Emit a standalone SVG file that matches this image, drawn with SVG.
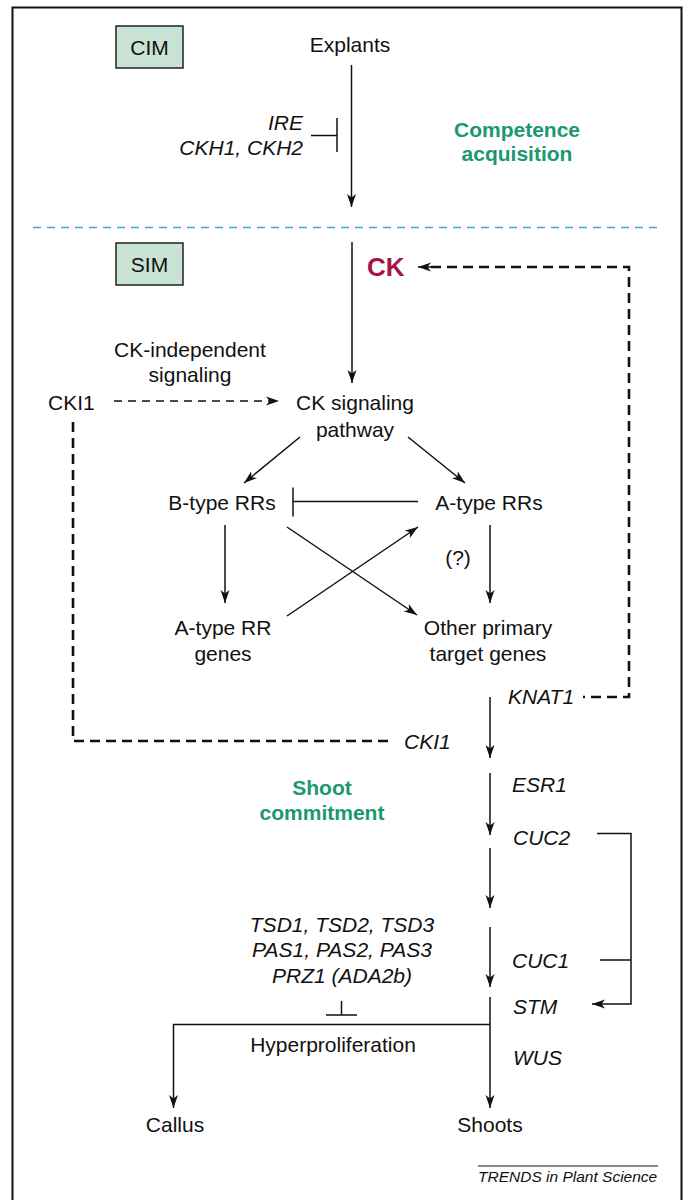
<svg xmlns="http://www.w3.org/2000/svg" width="683" height="1200" viewBox="0 0 683 1200">
<style>
text{font-family:"Liberation Sans",Arial,sans-serif;font-size:21px;fill:#111}
.c{text-anchor:middle}
.e{text-anchor:end}
.i{font-style:italic}
.g{font-weight:bold;fill:#1a9870}
.ln{fill:none;stroke:#111;stroke-width:1.5}
.thin{fill:none;stroke:#111;stroke-width:1.5;stroke-dasharray:8 6}
.thick{fill:none;stroke:#111;stroke-width:2.6;stroke-dasharray:10 6}
.box{fill:#c8e2d3;stroke:#222;stroke-width:1.5}
</style>
<defs>
<marker id="ah" markerUnits="userSpaceOnUse" markerWidth="14" markerHeight="10" refX="13" refY="5" orient="auto">
<path d="M0,0.5 L13,5 L0,9.5 L3.5,5 z" fill="#111"/>
</marker>
</defs>
<rect x="12.5" y="7.5" width="669" height="1210" fill="#fff" stroke="#111" stroke-width="2"/>
<line x1="33" y1="227.5" x2="661" y2="227.5" stroke="#3aa6dc" stroke-width="1.5" stroke-dasharray="8 6"/>

<g id="cim"><rect class="box" x="116" y="26" width="67" height="42"/><text class="c" x="149.5" y="55">CIM</text></g>
<g id="sim"><rect class="box" x="116" y="243" width="67" height="42"/><text class="c" x="149.5" y="272">SIM</text></g>
<g id="explants"><text class="c" x="350" y="52">Explants</text></g>
<g id="ire"><text class="e i" x="303" y="130">IRE</text><text class="e i" x="303" y="155">CKH1, CKH2</text></g>
<g id="competence"><text class="c g" x="517" y="137">Competence</text><text class="c g" x="517" y="161">acquisition</text></g>
<g id="ck"><text x="367" y="276" style="font-weight:bold;font-size:26px;fill:#a3154b">CK</text></g>
<g id="ckindep"><text class="c" x="190" y="357">CK-independent</text><text class="c" x="190" y="382">signaling</text></g>
<g id="cki1a"><text x="48" y="410">CKI1</text></g>
<g id="pathway"><text class="c" x="355" y="410">CK signaling</text><text class="c" x="355" y="437">pathway</text></g>
<g id="btype"><text class="c" x="222" y="510">B-type RRs</text></g>
<g id="atype"><text class="c" x="489" y="510">A-type RRs</text></g>
<g id="q"><text class="c" x="458" y="565">(?)</text></g>
<g id="atypegenes"><text class="c" x="223" y="635">A-type RR</text><text class="c" x="223" y="661">genes</text></g>
<g id="other"><text class="c" x="488" y="635">Other primary</text><text class="c" x="488" y="661">target genes</text></g>
<g id="knat1"><text class="i" x="508" y="704">KNAT1</text></g>
<g id="cki1b"><text class="i" x="404" y="749">CKI1</text></g>
<g id="esr1"><text class="i" x="512" y="792">ESR1</text></g>
<g id="shoot"><text class="c g" x="322" y="795">Shoot</text><text class="c g" x="322" y="820">commitment</text></g>
<g id="cuc2"><text class="i" x="513" y="845">CUC2</text></g>
<g id="tsd"><text class="c i" x="342" y="932">TSD1, TSD2, TSD3</text><text class="c i" x="342" y="957">PAS1, PAS2, PAS3</text><text class="c i" x="342" y="983">PRZ1 (ADA2b)</text></g>
<g id="cuc1"><text class="i" x="512" y="968">CUC1</text></g>
<g id="stm"><text class="i" x="513" y="1014">STM</text></g>
<g id="hyper"><text class="c" x="333" y="1052">Hyperproliferation</text></g>
<g id="wus"><text class="i" x="513" y="1065">WUS</text></g>
<g id="callus"><text class="c" x="175" y="1132">Callus</text></g>
<g id="shoots"><text class="c" x="490" y="1132">Shoots</text></g>
<g id="credit"><line x1="478" y1="1166" x2="658" y2="1166" stroke="#111" stroke-width="1"/><text class="i" x="478" y="1182" style="font-size:15.5px">TRENDS in Plant Science</text></g>

<g id="connectors">
<line class="ln" x1="351.5" y1="65" x2="351.5" y2="207" marker-end="url(#ah)"/>
<line class="ln" x1="311" y1="135.5" x2="337" y2="135.5"/>
<line class="ln" x1="337" y1="118" x2="337" y2="152"/>
<line class="ln" x1="352" y1="242" x2="352" y2="383" marker-end="url(#ah)"/>
<line x1="583" y1="697" x2="585" y2="697" stroke="#111" stroke-width="2.6"/>
<path class="thick" d="M591,697 H629 V267 H430"/>
<line class="ln" x1="432" y1="267" x2="418" y2="267" marker-end="url(#ah)"/>
<line class="thin" x1="114" y1="401" x2="279" y2="401" marker-end="url(#ah)"/>
<path class="thick" d="M73,422 V741 H394"/>
<line class="ln" x1="300" y1="437" x2="244" y2="483" marker-end="url(#ah)"/>
<line class="ln" x1="408" y1="437" x2="465" y2="483" marker-end="url(#ah)"/>
<line class="ln" x1="418" y1="501.5" x2="293" y2="501.5"/>
<line class="ln" x1="293" y1="487.5" x2="293" y2="516.5"/>
<line class="ln" x1="225" y1="525" x2="225" y2="603" marker-end="url(#ah)"/>
<line class="ln" x1="490" y1="525" x2="490" y2="603" marker-end="url(#ah)"/>
<line class="ln" x1="287" y1="527" x2="417" y2="615" marker-end="url(#ah)"/>
<line class="ln" x1="287" y1="616" x2="418" y2="527" marker-end="url(#ah)"/>
<line class="ln" x1="490" y1="697" x2="490" y2="758" marker-end="url(#ah)"/>
<line class="ln" x1="490" y1="773" x2="490" y2="835" marker-end="url(#ah)"/>
<line class="ln" x1="490" y1="848" x2="490" y2="908" marker-end="url(#ah)"/>
<line class="ln" x1="490" y1="927" x2="490" y2="987" marker-end="url(#ah)"/>
<line class="ln" x1="490" y1="997" x2="490" y2="1108" marker-end="url(#ah)"/>
<path class="ln" d="M597,833.5 H631 V1004 H592" marker-end="url(#ah)"/>
<line class="ln" x1="600" y1="960" x2="631" y2="960"/>
<path class="ln" d="M490,1024.5 H173.5 V1108" marker-end="url(#ah)"/>
<line class="ln" x1="326" y1="1015" x2="357" y2="1015"/>
<line class="ln" x1="341.5" y1="1001" x2="341.5" y2="1015"/>
</g>
</svg>
